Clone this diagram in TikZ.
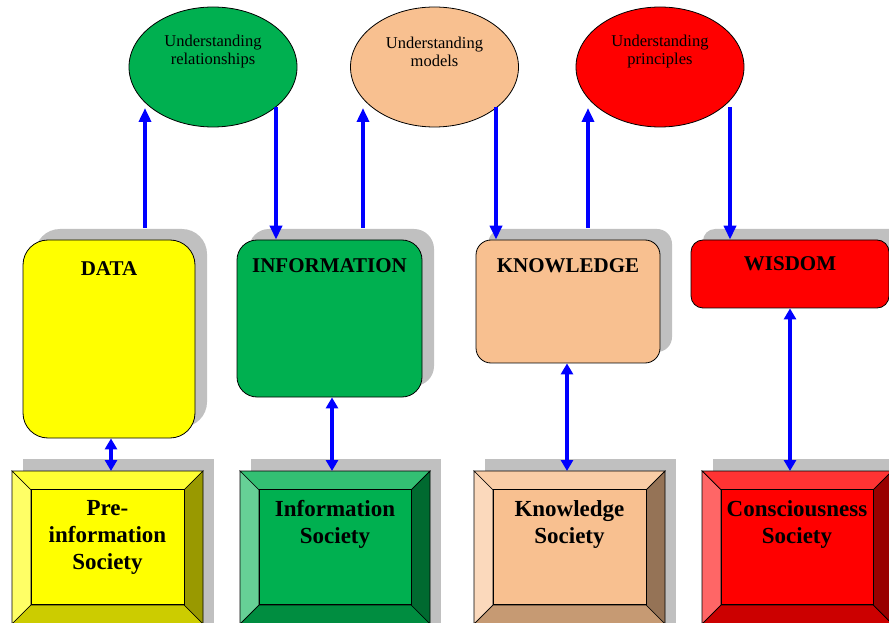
\documentclass[tikz,border=0pt]{standalone}
\usepackage{fontspec}
\setmainfont{Liberation Serif}
\usetikzlibrary{shapes.geometric,arrows.meta,shadows,calc}
\definecolor{shgray}{HTML}{C0C0C0}
\definecolor{cyel}{HTML}{FFFF00}
\definecolor{cgrn}{HTML}{00B050}
\definecolor{cpch}{HTML}{F8C090}
\definecolor{cred}{HTML}{FF0000}
\definecolor{arrblue}{HTML}{0000FF}
% bevel shades: top, left, right, bottom
\definecolor{yT}{HTML}{FFFF33}\definecolor{yL}{HTML}{FFFF66}\definecolor{yR}{HTML}{999900}\definecolor{yB}{HTML}{CCCC00}
\definecolor{gT}{HTML}{33C073}\definecolor{gL}{HTML}{66D096}\definecolor{gR}{HTML}{006A30}\definecolor{gB}{HTML}{008D40}
\definecolor{pT}{HTML}{F9CDA6}\definecolor{pL}{HTML}{FBD9BC}\definecolor{pR}{HTML}{957356}\definecolor{pB}{HTML}{C69A73}
\definecolor{rT}{HTML}{FF3333}\definecolor{rL}{HTML}{FF6666}\definecolor{rR}{HTML}{990000}\definecolor{rB}{HTML}{CC0000}
\tikzset{
  oval/.style={ellipse, draw=black, line width=0.8pt, minimum width=168pt, minimum height=120pt, inner sep=0pt},
  ovaltext/.style={font=\fontsize{16.5}{18}\selectfont, align=center, inner sep=0pt},
  rbox/.style={draw=black, line width=0.8pt, inner sep=0pt,
     drop shadow={shadow xshift=12pt, shadow yshift=11pt, fill=shgray, opacity=1}},
  boxlabel/.style={font=\fontsize{21}{24}\selectfont\bfseries, inner sep=0pt},
  soclabel/.style={font=\fontsize{23}{27}\selectfont\bfseries, align=center, inner sep=0pt, anchor=north},
  arr/.style={draw=arrblue, line width=3.6pt, -{Triangle[width=12pt,length=14pt]}},
  darr/.style={draw=arrblue, line width=3.6pt, {Triangle[width=12pt,length=11pt]}-{Triangle[width=12pt,length=11pt]}},
  bev/.style={draw=black, line width=0.7pt},
}
% bevel box: #1 name, #2 x1, #3 x2, #4 prefix colours, #5 main colour
\newcommand{\bevelbox}[5]{%
  \fill[shgray] (#2+11,-2) rectangle (#3+11,163);
  \path[bev, fill=#4T] (#2,151) -- (#3,151) -- (#3-19,132) -- (#2+19,132) -- cycle;
  \path[bev, fill=#4L] (#2,151) -- (#2+19,132) -- (#2+19,17) -- (#2,-2) -- cycle;
  \path[bev, fill=#4R] (#3,151) -- (#3-19,132) -- (#3-19,17) -- (#3,-2) -- cycle;
  \path[bev, fill=#4B] (#2,-2) -- (#2+19,17) -- (#3-19,17) -- (#3,-2) -- cycle;
  \node[bev, fill=#5, minimum width=#3-#2-38, minimum height=115pt, inner sep=0pt, anchor=south west] (#1) at (#2+19,17) {};
}
\begin{document}
\begin{tikzpicture}[x=1pt,y=1pt]
\useasboundingbox (0,0) rectangle (889,622);
\clip (0,0) rectangle (889,622);
\fill[white] (0,0) rectangle (889,622);

% ellipses
\node[oval, fill=cgrn] (e1) at (213,555) {};
\node[oval, fill=cpch] (e2) at (434.5,555) {};
\node[oval, fill=cred] (e3) at (660,555) {};
\node[ovaltext] (e1t) at (213,570) {Understanding\\relationships};
\node[ovaltext] (e2t) at (434.5,570) {Understanding\\models};
\node[ovaltext] (e3t) at (660,570) {Understanding\\principles};

% rounded boxes
\node[rbox, fill=cyel, rounded corners=25pt, minimum width=172pt, minimum height=198pt] (data) at (109,283) {};
\node[rbox, fill=cgrn, rounded corners=20pt, minimum width=185pt, minimum height=157pt] (info) at (329.5,303.5) {};
\node[rbox, fill=cpch, rounded corners=15pt, minimum width=184pt, minimum height=123pt] (know) at (568,320.5) {};
\node[rbox, fill=cred, rounded corners=12pt, minimum width=198pt, minimum height=68pt] (wis) at (790,348) {};
\node[boxlabel] (datat) at (109,353) {DATA};
\node[boxlabel] (infot) at (329.5,356) {INFORMATION};
\node[boxlabel] (knowt) at (568,356) {KNOWLEDGE};
\node[boxlabel] (wist) at (790,358) {WISDOM};

% society boxes
\bevelbox{pre}{12}{203}{y}{cyel}
\bevelbox{isoc}{240}{430}{g}{cgrn}
\bevelbox{ksoc}{474}{665}{p}{cpch}
\bevelbox{csoc}{702}{892}{r}{cred}
\node[soclabel] at (107.5,122) {Pre-\\information\\Society};
\node[soclabel] at (335,122) {Information\\Society};
\node[soclabel] at (569.5,122) {Knowledge\\Society};
\node[soclabel] at (797,122) {Consciousness\\Society};

% arrow end points on the ellipses
\coordinate (a1) at (145,514);
\coordinate (b1) at (276,515);
\coordinate (a2) at (363,514);
\coordinate (b2) at (496,515);
\coordinate (a3) at (588,514);
\coordinate (b3) at (730,515);

\draw[arr] (a1 |- data.north) ++(0,12) -- (a1);
\draw[arr] (b1) -- (b1 |- info.north);
\draw[arr] (a2 |- info.north) ++(0,12) -- (a2);
\draw[arr] (b2) -- (b2 |- know.north);
\draw[arr] (a3 |- know.north) ++(0,12) -- (a3);
\draw[arr] (b3) -- (b3 |- wis.north);

% double arrows
\coordinate (p1) at (111,151);
\coordinate (p2) at (332,151);
\coordinate (p3) at (567,151);
\coordinate (p4) at (790,151);
\draw[darr] (p1 |- data.south) -- (p1);
\draw[darr] (p2 |- info.south) -- (p2);
\draw[darr] (p3 |- know.south) -- (p3);
\draw[darr] (p4 |- wis.south) -- (p4);
\end{tikzpicture}
\end{document}
